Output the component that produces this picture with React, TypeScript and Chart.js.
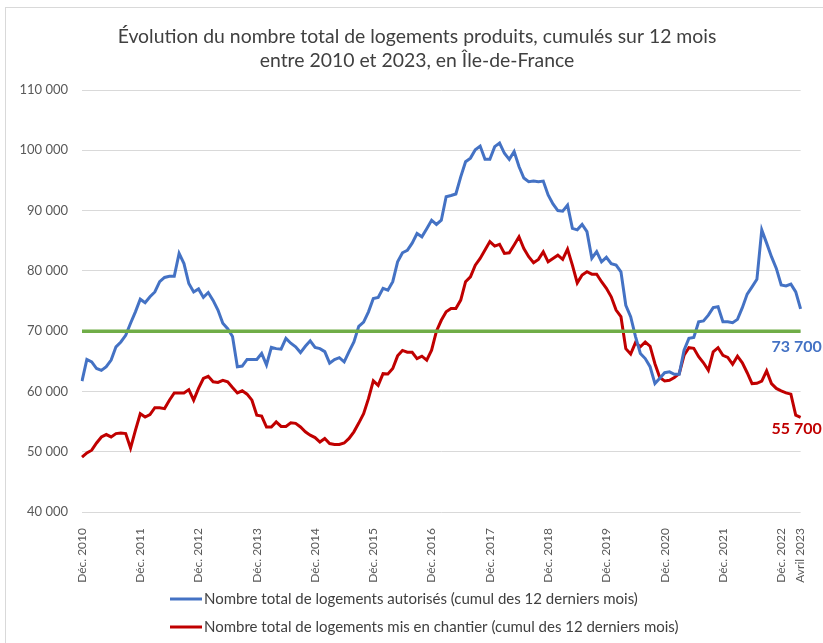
import { useEffect, useRef } from 'react';
import { Chart, registerables } from 'chart.js';

Chart.register(...registerables);

const MONTH_NAMES = ['Janv.', 'Févr.', 'Mars', 'Avril', 'Mai', 'Juin', 'Juil.', 'Août', 'Sept.', 'Oct.', 'Nov.', 'Déc.'];

// Monthly categories from Déc. 2010 to Avril 2023
const categories: string[] = [];
for (let y = 2010; y <= 2023; y++) {
  for (let m = 0; m < 12; m++) {
    if (y === 2010 && m < 11) continue;
    if (y === 2023 && m > 3) break;
    categories.push(`${MONTH_NAMES[m]} ${y}`);
  }
}

const TITLE = [
  'Évolution du nombre total de logements produits, cumulés sur 12 mois',
  'entre 2010 et 2023, en Île-de-France',
];

const SERIES_AUTORISES_LABEL = 'Nombre total de logements autorisés (cumul des 12 derniers mois)';
const SERIES_CHANTIER_LABEL = 'Nombre total de logements mis en chantier (cumul des 12 derniers mois)';

const autorises: number[] = [
  61700, 65300, 64900, 63800, 63500, 64100, 65200, 67400, 68200, 69300, 71300, 73200,
  75300, 74700, 75700, 76500, 78200, 78900, 79100, 79100, 82900, 81200, 77900, 76500,
  77000, 75600, 76400, 75100, 73500, 71300, 70400, 69100, 64100, 64200, 65300, 65300,
  65300, 66300, 64400, 67300, 67100, 67000, 68800, 68000, 67400, 66450, 67500, 68400,
  67300, 67100, 66600, 64700, 65300, 65600, 64900, 66600, 68200, 70800, 71500, 73200,
  75400, 75600, 77100, 76800, 78200, 81500, 83000, 83400, 84600, 86200, 85650, 87000,
  88400, 87700, 88400, 92300, 92500, 92750, 95600, 98100, 98700, 100100, 100700, 98500,
  98500, 100600, 101200, 99500, 98500, 99800, 97300, 95400, 94800, 94900, 94800, 94900,
  92600, 91100, 90000, 89900, 90900, 87050, 86800, 87700, 86500, 82100, 83200, 81500,
  82250, 81200, 80950, 79850, 74300, 72400, 69100, 66300, 65450, 64100, 61300, 62200,
  63100, 63250, 62850, 62850, 66850, 68800, 68950, 71550, 71700, 72650, 73900, 74050,
  71550, 71550, 71400, 71950, 73900, 76150, 77350, 78600, 86800, 84600, 82350, 80400,
  77650, 77500, 77800, 76500, 73700,
];

const misEnChantier: number[] = [
  49100, 49800, 50250, 51450, 52450, 52850, 52450, 53000, 53100, 53000, 50600, 53550,
  56300, 55750, 56150, 57300, 57300, 57150, 58550, 59750, 59750, 59750, 60300, 58550,
  60500, 62150, 62500, 61600, 61500, 61850, 61600, 60650, 59750, 60100, 59550, 58550,
  56050, 55900, 54100, 54100, 54950, 54200, 54200, 54800, 54700, 54100, 53300, 52750,
  52350, 51600, 52200, 51350, 51200, 51200, 51450, 52200, 53300, 54750, 56300, 58800,
  61750, 61000, 62950, 62900, 63800, 65900, 66800, 66500, 66500, 65450, 65850, 65200,
  66850, 70000, 71800, 73200, 73750, 73750, 75150, 78200, 79000, 80950, 82050, 83450,
  84850, 84100, 84400, 82900, 83000, 84300, 85650, 83700, 82350, 81350, 81900, 83150,
  81500, 82050, 82600, 81900, 83600, 80950, 78000, 79300, 79850, 79450, 79450, 78200,
  77100, 75700, 73500, 72400, 67100, 66200, 68100, 67400, 68200, 67500, 64600, 62300,
  61750, 61850, 62300, 62950, 66000, 67250, 67150, 65750, 64750, 63500, 66550, 67250,
  66000, 65650, 64500, 65850, 64750, 63100, 61300, 61350, 61700, 63400, 61300, 60500,
  60100, 59750, 59550, 56050, 55700,
];

const REFERENCE_LEVEL = 70000;
const Y_MIN = 40000;
const Y_MAX = 110000;
const Y_STEP = 10000;

const BLUE = '#4472c4';
const RED = '#c00000';
const GREEN = '#70ad47';
const FONT = 'Lato, "Open Sans", "DejaVu Sans", sans-serif';

const fmt = (v: number) => String(Math.round(v)).replace(/\B(?=(\d{3})+(?!\d))/g, ' ');

const titlePlugin = {
  id: 'customTitle',
  afterDraw(chart: any) {
    const ctx = chart.ctx;
    ctx.save();
    ctx.font = `19.4px ${FONT}`;
    ctx.fillStyle = '#404040';
    ctx.textAlign = 'center';
    ctx.textBaseline = 'middle';
    const cx = 417;
    TITLE.forEach((line, i) => ctx.fillText(line, cx, 37 + i * 24));
    ctx.restore();
  },
};

const endLabelsPlugin = {
  id: 'endLabels',
  afterDatasetsDraw(chart: any) {
    const ctx = chart.ctx;
    const specs = [
      { ds: 0, color: BLUE, dx: -4, dy: 38 },
      { ds: 1, color: RED, dx: -4, dy: 11 },
    ];
    ctx.save();
    ctx.font = `bold 16px ${FONT}`;
    ctx.textAlign = 'center';
    ctx.textBaseline = 'middle';
    for (const s of specs) {
      const meta = chart.getDatasetMeta(s.ds);
      const data = chart.data.datasets[s.ds].data as number[];
      const last = meta.data[meta.data.length - 1];
      if (!last) continue;
      ctx.fillStyle = s.color;
      ctx.fillText(fmt(data[data.length - 1]), last.x + s.dx, last.y + s.dy);
    }
    ctx.restore();
  },
};

const legendPlugin = {
  id: 'stackedLegend',
  afterDraw(chart: any) {
    const ctx = chart.ctx;
    const items = [0, 1];
    const x0 = 170;
    const lineLen = 32;
    const y0 = 599;
    const gap = 28;
    ctx.save();
    ctx.font = `15px ${FONT}`;
    ctx.textBaseline = 'middle';
    ctx.textAlign = 'left';
    items.forEach((i, k) => {
      const ds = chart.data.datasets[i];
      const y = y0 + k * gap;
      ctx.strokeStyle = ds.borderColor;
      ctx.lineWidth = 3;
      ctx.beginPath();
      ctx.moveTo(x0, y);
      ctx.lineTo(x0 + lineLen, y);
      ctx.stroke();
      ctx.fillStyle = '#404040';
      ctx.fillText(ds.label, x0 + lineLen + 2, y);
    });
    ctx.restore();
  },
};

export default function App() {
  const canvasRef = useRef<HTMLCanvasElement | null>(null);

  useEffect(() => {
    if (!canvasRef.current) return;
    const chart = new Chart(canvasRef.current, {
      type: 'line',
      data: {
        labels: categories,
        datasets: [
          {
            label: SERIES_AUTORISES_LABEL,
            data: autorises,
            borderColor: BLUE,
            backgroundColor: BLUE,
            borderWidth: 3,
            pointRadius: 0,
            tension: 0,
            order: 1,
          },
          {
            label: SERIES_CHANTIER_LABEL,
            data: misEnChantier,
            borderColor: RED,
            backgroundColor: RED,
            borderWidth: 3,
            pointRadius: 0,
            tension: 0,
            order: 2,
          },
          {
            label: 'Référence',
            data: categories.map(() => REFERENCE_LEVEL),
            borderColor: GREEN,
            backgroundColor: GREEN,
            borderWidth: 3.5,
            pointRadius: 0,
            tension: 0,
            order: 0,
          },
        ],
      },
      options: {
        animation: false,
        responsive: false,
        maintainAspectRatio: false,
        layout: { padding: { left: 0, right: 14, top: 90, bottom: 0 } },
        plugins: {
          legend: { display: false },
          tooltip: { enabled: false },
          title: { display: false },
        },
        scales: {
          x: {
            type: 'category',
            offset: false,
            grid: { display: false },
            border: { display: false },
            afterFit: (scale: any) => {
              scale.height = 131;
            },
            ticks: {
              autoSkip: false,
              maxRotation: 90,
              minRotation: 90,
              padding: 8,
              color: '#595959',
              font: { family: FONT, size: 12 },
              callback: (_v: any, index: number) => {
                const lab = categories[index];
                if (lab.startsWith('Déc.') || index === categories.length - 1) return lab;
                return null;
              },
            },
          },
          y: {
            min: Y_MIN,
            max: Y_MAX,
            grid: { color: '#d9d9d9', lineWidth: 1, drawTicks: false },
            border: { display: false },
            afterFit: (scale: any) => {
              scale.width = 82;
            },
            ticks: {
              stepSize: Y_STEP,
              padding: 14,
              color: '#595959',
              font: { family: FONT, size: 13 },
              callback: (v: any) => fmt(Number(v)),
            },
          },
        },
      },
      plugins: [titlePlugin, endLabelsPlugin, legendPlugin],
    });
    return () => chart.destroy();
  }, []);

  return (
    <div style={{ position: 'absolute', left: 0, top: 0, width: 823, height: 643, overflow: 'hidden', background: '#fff' }}>
      <div
        style={{
          position: 'absolute',
          left: 5,
          top: 7,
          width: 830,
          height: 650,
          border: '1px solid #d9d9d9',
        }}
      />
      <canvas
        ref={canvasRef}
        width={823}
        height={643}
        style={{ position: 'absolute', left: 0, top: 0, width: 823, height: 643 }}
      />
    </div>
  );
}
